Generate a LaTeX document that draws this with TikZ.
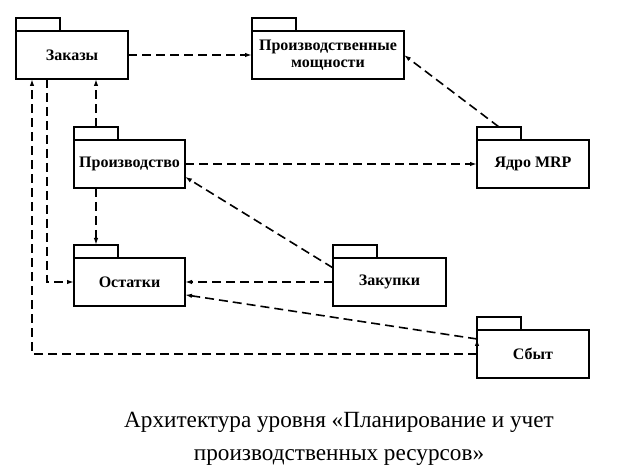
\documentclass[tikz,border=0pt]{standalone}
\usepackage{fontspec}
\setmainfont{Liberation Serif}
\usetikzlibrary{arrows.meta}
\usetikzlibrary{calc}

\begin{document}
\begin{tikzpicture}[x=1pt,y=1pt,
	paket/.style={rectangle,draw,line width=1.5pt,inner sep=2pt,outer sep=0pt,minimum height=48pt,align=center,font=\fontsize{16}{17.5}\selectfont\bfseries},
	yarlyk/.style={rectangle,draw,line width=1.5pt,inner sep=0pt,outer sep=0pt,minimum width=44pt,minimum height=13pt,anchor=south west},
	svyaz/.style={line width=1.6pt,dash pattern=on 9pt off 5pt,-{Latex[length=7pt,width=4.5pt]}}]
				\useasboundingbox (0,0) rectangle (643,476);
				\path 
				(72,421) node(zak) [paket,minimum width=112pt] {Заказы}
				(328,421) node(pm) [paket,minimum width=152pt] {Производственные\\мощности}
				(129.5,312) node(proizv) [paket,minimum width=111pt] {Производство}
				(533,312) node(mrp) [paket,minimum width=112pt] {Ядро MRP}
				(129.5,194) node(ost) [paket,minimum width=111pt] {Остатки}
				(389.5,194) node(zakup) [paket,minimum width=113pt] {Закупки}
				(533,122) node(sbyt) [paket,minimum width=112pt] {Сбыт}
				(zak.north west) node(zakt) [yarlyk] {}
				(pm.north west) node(pmt) [yarlyk] {}
				(proizv.north west) node(proizvt) [yarlyk] {}
				(mrp.north west) node(mrpt) [yarlyk] {}
				(ost.north west) node(ostt) [yarlyk] {}
				(zakup.north west) node(zakupt) [yarlyk] {}
				(sbyt.north west) node(sbytt) [yarlyk] {}
				(339,37) node(podpis) [align=center,font=\fontsize{23.2}{33}\selectfont] {Архитектура уровня «Планирование и учет\\производственных ресурсов»};
				\draw[svyaz]
				(zak.east) edge (pm.west)
				(mrpt.north) edge (pm.east)
				(proizv.east) edge (mrp.west)
				(proizvt.north) edge (proizvt.north |- zak.south)
				(proizvt.north |- proizv.south) edge (ostt.north)
				(zakup.166) edge (proizv.-13)
				(zakup.west) edge (ost.east)
				(sbyt.165) edge (ost.-13);
				\draw[svyaz] ([xshift=31pt]zak.south west) |- (ost.west);
				\draw[svyaz] (sbyt.west) -| ([xshift=16pt]zak.south west);
			\end{tikzpicture}
\end{document}
